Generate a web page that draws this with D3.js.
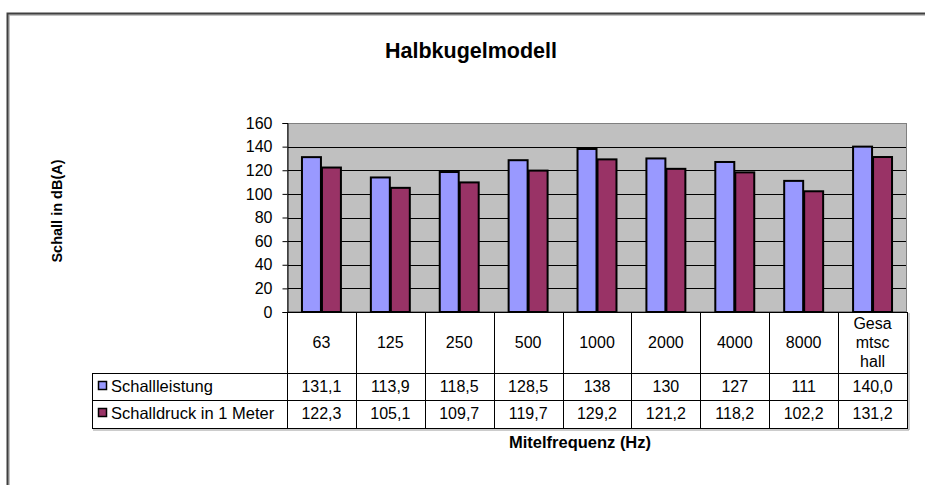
<!DOCTYPE html>
<html>
<head>
<meta charset="utf-8">
<script src="https://cdn.jsdelivr.net/npm/d3@7"></script>
<style>
  body { margin: 0; background: #fff; }
  svg { display: block; font-family: "Liberation Sans", Arial, sans-serif; }
</style>
</head>
<body>
<svg id="chart" width="925" height="485"></svg>
<script>
const categories = ["63", "125", "250", "500", "1000", "2000", "4000", "8000", "Gesamtschall"];
const categoryLines = [["63"], ["125"], ["250"], ["500"], ["1000"], ["2000"], ["4000"], ["8000"], ["Gesa", "mtsc", "hall"]];
const seriesNames = ["Schallleistung", "Schalldruck in 1 Meter"];
const schallleistung = [131.1, 113.9, 118.5, 128.5, 138, 130, 127, 111, 140.0];
const schalldruck = [122.3, 105.1, 109.7, 119.7, 129.2, 121.2, 118.2, 102.2, 131.2];
const tableLabels1 = ["131,1", "113,9", "118,5", "128,5", "138", "130", "127", "111", "140,0"];
const tableLabels2 = ["122,3", "105,1", "109,7", "119,7", "129,2", "121,2", "118,2", "102,2", "131,2"];
const yTicks = [0, 20, 40, 60, 80, 100, 120, 140, 160];
const colors = ["#9999FF", "#993366"];
const titleText = "Halbkugelmodell";
const yTitle = "Schall in dB(A)";
const xTitle = "Mitelfrequenz (Hz)";

const svg = d3.select("#chart");
const L = 287, R = 907, T = 123, B = 312;
const FS = 16;

// outer frame
svg.append("path").attr("d", `M9,485 V15 H925`).attr("fill", "none").attr("stroke", "#b0b0b0").attr("stroke-width", 1.5);
svg.append("path").attr("d", `M7.5,485 V13.5 H925`).attr("fill", "none").attr("stroke", "#404040").attr("stroke-width", 2);

svg.append("text").attr("x", 471).attr("y", 58).attr("text-anchor", "middle")
  .attr("font-size", 21.5).attr("font-weight", "bold").text(titleText);

const x = d3.scaleBand().domain(categories).range([L, R]).paddingInner(0.42).paddingOuter(0.21);
const xOuter = d3.scaleBand().domain(categories).range([L, R]);
const y = d3.scaleLinear().domain([0, 160]).range([B, T]);
const xs = d3.scaleBand().domain([0, 1]).range([0, x.bandwidth()]);

// plot background
svg.append("rect").attr("x", L).attr("y", T).attr("width", R - L).attr("height", B - T).attr("fill", "#C0C0C0");
// grid
svg.append("g").selectAll("line").data(yTicks.filter(d => d > 0 && d < 160)).join("line")
  .attr("x1", L).attr("x2", R).attr("y1", d => Math.round(y(d)) + 0.5).attr("y2", d => Math.round(y(d)) + 0.5)
  .attr("stroke", "#000").attr("stroke-width", 1);
svg.append("rect").attr("x", L + 0.5).attr("y", T + 0.5).attr("width", R - L - 1).attr("height", B - T - 1)
  .attr("fill", "none").attr("stroke", "#808080").attr("stroke-width", 1);

// y axis
const yAxis = d3.axisLeft(y).tickValues(yTicks).tickSize(5).tickPadding(10);
const gy = svg.append("g").attr("transform", `translate(${L + 0.5},0)`).call(yAxis);
gy.select(".domain").attr("stroke", "#000");
gy.selectAll(".tick line").attr("stroke", "#000");
gy.selectAll(".tick text").attr("font-size", FS).attr("fill", "#000").attr("font-family", "Liberation Sans, Arial, sans-serif");

svg.append("text").attr("transform", `translate(62,211) rotate(-90)`).attr("text-anchor", "middle")
  .attr("font-size", 14.5).attr("font-weight", "bold").text(yTitle);

// bars
const series = [schallleistung, schalldruck];
series.forEach((vals, si) => {
  svg.append("g").selectAll("rect").data(vals).join("rect")
    .attr("x", (d, i) => x(categories[i]) + xs(si) + 0.5)
    .attr("y", d => y(d))
    .attr("width", xs.bandwidth() - 1)
    .attr("height", d => B - y(d))
    .attr("fill", colors[si]).attr("stroke", "#000").attr("stroke-width", 2);
});

// table
const rowTop = B, r1 = 373, r2 = 400, r3 = 428, legL = 92;
const tg = svg.append("g").attr("stroke", "#000").attr("stroke-width", 1);
tg.append("line").attr("x1", L).attr("x2", R).attr("y1", rowTop + 0.5).attr("y2", rowTop + 0.5);
[r1, r2, r3].forEach(yy => tg.append("line").attr("x1", legL).attr("x2", R).attr("y1", yy + 0.5).attr("y2", yy + 0.5));
categories.forEach(c => {
  const xx = Math.round(xOuter(c)) + 0.5;
  tg.append("line").attr("x1", xx).attr("x2", xx).attr("y1", rowTop).attr("y2", r3 + 1);
});
tg.append("line").attr("x1", R + 0.5).attr("x2", R + 0.5).attr("y1", rowTop).attr("y2", r3 + 1);
tg.append("line").attr("x1", legL + 0.5).attr("x2", legL + 0.5).attr("y1", r1).attr("y2", r3 + 1);
svg.append("path").attr("d", `M${legL + 1},${r3 + 2} H${R + 2} V${rowTop + 1}`).attr("fill", "none").attr("stroke", "#999").attr("stroke-width", 1);

// header labels
const hg = svg.append("g").attr("font-size", FS).attr("text-anchor", "middle");
categoryLines.forEach((lines, i) => {
  const cx = xOuter(categories[i]) + xOuter.bandwidth() / 2;
  const cy = (rowTop + r1) / 2 + 5.5;
  lines.forEach((t, k) => {
    hg.append("text").attr("x", cx).attr("y", cy + (k - (lines.length - 1) / 2) * 19).text(t);
  });
});
// data rows
[tableLabels1, tableLabels2].forEach((labels, si) => {
  const yy = si === 0 ? 392 : 419;
  svg.append("g").attr("font-size", FS).attr("text-anchor", "middle").selectAll("text").data(labels).join("text")
    .attr("x", (d, i) => xOuter(categories[i]) + xOuter.bandwidth() / 2).attr("y", yy).text(d => d);
  svg.append("rect").attr("x", 98.5).attr("y", yy - 10.5).attr("width", 8).attr("height", 8)
    .attr("fill", colors[si]).attr("stroke", "#000").attr("stroke-width", 1.5);
  svg.append("text").attr("x", 111).attr("y", yy).attr("font-size", FS + 0.5).text(seriesNames[si]);
});

svg.append("text").attr("x", 580).attr("y", 448).attr("text-anchor", "middle")
  .attr("font-size", 16.5).attr("font-weight", "bold").text(xTitle);
</script>
</body>
</html>
